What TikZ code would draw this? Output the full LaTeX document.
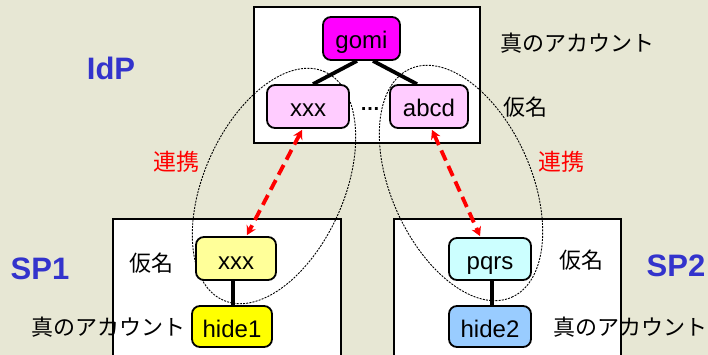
\documentclass[tikz,border=0pt]{standalone}
\usepackage{fontspec}
\setmainfont{Liberation Sans}
\newfontfamily\jp{Noto Sans CJK JP}
\usetikzlibrary{arrows.meta,calc}
\definecolor{bg}{RGB}{231,231,212}
\definecolor{lblblue}{RGB}{51,51,204}
\definecolor{magentaf}{RGB}{255,0,255}
\definecolor{pinkl}{RGB}{255,204,255}
\definecolor{yell}{RGB}{255,255,153}
\definecolor{yellf}{RGB}{255,255,0}
\definecolor{cyanl}{RGB}{204,255,255}
\definecolor{bluel}{RGB}{153,204,255}
\definecolor{redf}{RGB}{255,0,0}
\begin{document}
\begin{tikzpicture}[x=1pt,y=1pt,
  namebox/.style={draw=black,line width=1.8pt,rounded corners=8pt,inner sep=0pt,
    minimum height=43pt,text height=21pt,text depth=0pt,
    font=\fontsize{24}{24}\selectfont},
  frame/.style={draw=black,line width=2pt,fill=white},
  jplabel/.style={font=\jp\fontsize{22}{22}\selectfont,inner sep=0pt},
  redlabel/.style={font=\jp\fontsize{23}{23}\selectfont,text=redf,inner sep=0pt},
  partylabel/.style={font=\fontsize{31}{31}\selectfont\bfseries,text=lblblue,inner sep=0pt},
  link/.style={line width=3.8pt,black},
  ell/.style={draw=black,line width=0.9pt,dash pattern=on 2pt off 1.2pt},
  fed/.style={draw=redf,line width=3.8pt,dash pattern=on 11pt off 6pt,
    {Stealth[length=9pt,width=10pt]}-{Stealth[length=9pt,width=10pt]}}
]
\fill[bg] (0,0) rectangle (708,-355);
\useasboundingbox (0,0) rectangle (708,-355);

% frames
\draw[frame] (254,-7) rectangle (480,-143);
\draw[frame] (113,-219) rectangle (341,-365);
\draw[frame] (394,-219) rectangle (621,-365);

% dashed ellipses
\draw[ell, rotate around={66:(274,-186)}] (274,-186) ellipse (125 and 70);
\draw[ell, rotate around={-66:(461,-183)}] (461,-183) ellipse (125 and 70);

% nodes
\node[namebox,fill=magentaf,minimum width=77pt] (gomi) at (361.5,-38.5) {gomi};
\node[namebox,fill=pinkl,minimum width=82pt] (ixxx) at (308,-106.5) {xxx};
\node[namebox,fill=pinkl,minimum width=78pt] (abcd) at (429,-106.5) {abcd};
\node[namebox,fill=yell,minimum width=80pt] (sxxx) at (236,-258.5) {xxx};
\node[namebox,fill=yellf,minimum width=80pt,minimum height=41pt] (hide1) at (232,-326.5) {hide1};
\node[namebox,fill=cyanl,minimum width=82pt,minimum height=42pt] (pqrs) at (490,-259) {pqrs};
\node[namebox,fill=bluel,minimum width=82pt,minimum height=41pt] (hide2) at (490,-326.5) {hide2};
\node[font=\fontsize{20}{20}\selectfont\bfseries,inner sep=0pt] (dots) at (370,-109) {…};

% connectors
\draw[link] ($(gomi.south)+(-4.5,0)$) -- ($(ixxx.north)+(5,0)$);
\draw[link] ($(gomi.south)+(11.5,0)$) -- ($(abcd.north)+(-12,0)$);
\draw[link] ($(sxxx.south)+(-3,0)$) -- ($(hide1.north)+(1,0)$);
\draw[link] ($(pqrs.south)+(2,0)$) -- ($(hide2.north)+(2,0)$);

% federation arrows
\draw[fed] ($(ixxx.south)+(-6,-1)$) -- ($(sxxx.north)+(11,1)$);
\draw[fed] ($(abcd.south)+(3,-1)$) -- ($(pqrs.north)+(-10,1)$);

% labels
\node[partylabel] (idp) at (111,-68) {IdP};
\node[partylabel] (sp1) at (40,-269) {SP1};
\node[partylabel] (sp2) at (676,-266) {SP2};
\node[redlabel] (ren1) at (176,-162) {連携};
\node[redlabel] (ren2) at (561,-162) {連携};
\node[jplabel] (acI) at (577,-43) {真のアカウント};
\node[jplabel] (kmI) at (525,-107) {仮名};
\node[jplabel] (km1) at (151,-263) {仮名};
\node[jplabel] (ac1) at (108,-327) {真のアカウント};
\node[jplabel] (km2) at (581,-260) {仮名};
\node[jplabel] (ac2) at (630,-327) {真のアカウント};
\end{tikzpicture}
\end{document}
